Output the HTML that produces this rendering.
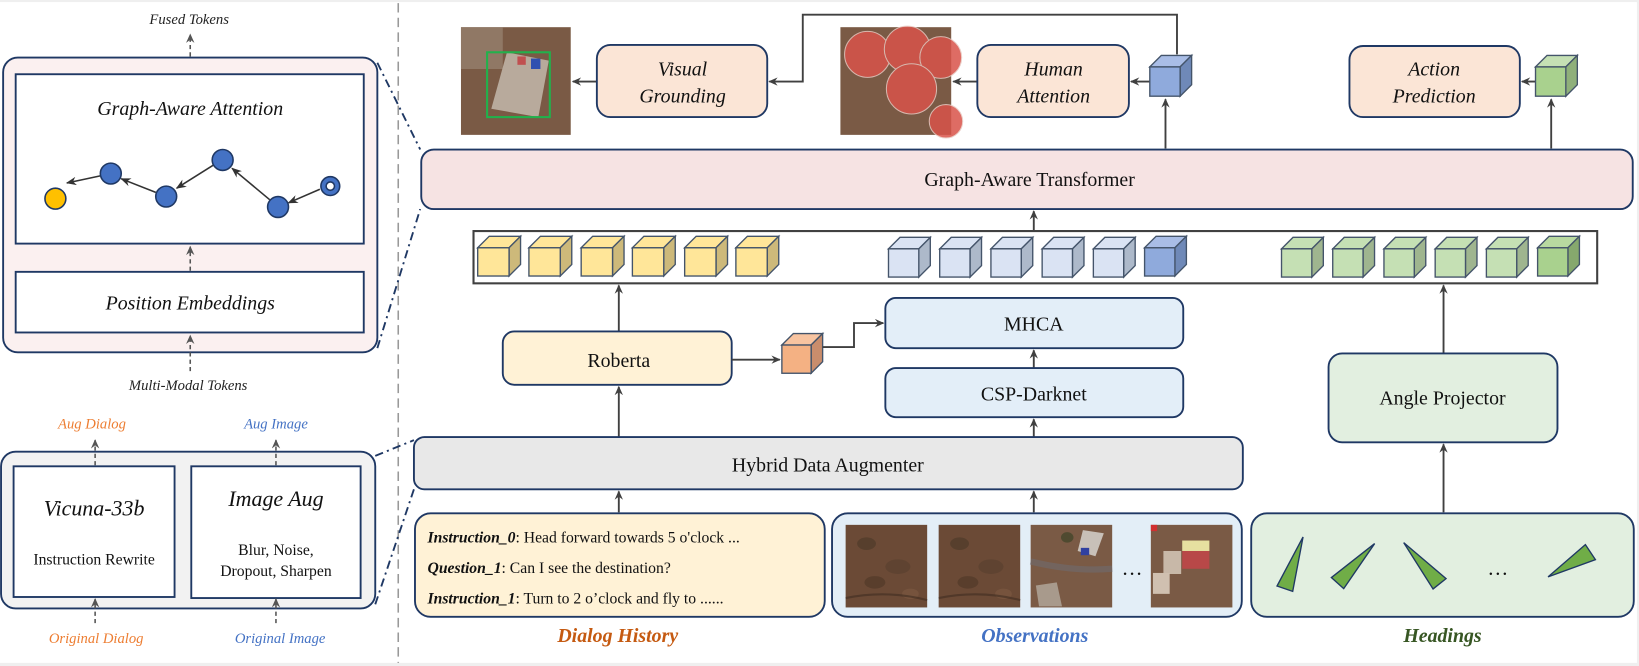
<!DOCTYPE html>
<html><head><meta charset="utf-8"><style>
html,body{margin:0;padding:0;background:#efefef;}
svg{display:block;}
text{font-family:"Liberation Serif",serif;}
</style></head><body>
<svg width="1639" height="666" viewBox="0 0 1568 637" preserveAspectRatio="none" xmlns="http://www.w3.org/2000/svg">
<defs>
<marker id="ar" markerWidth="10" markerHeight="10" refX="8" refY="4" orient="auto" markerUnits="userSpaceOnUse">
<path d="M0,0 L9,4 L0,8 L3,4 Z" fill="#404040"/>
</marker>
<marker id="ard" markerWidth="10" markerHeight="10" refX="8" refY="4" orient="auto" markerUnits="userSpaceOnUse">
<path d="M0,0 L9,4 L0,8 L3,4 Z" fill="#555"/>
</marker>
<marker id="arn" markerWidth="12" markerHeight="10" refX="9" refY="4" orient="auto" markerUnits="userSpaceOnUse">
<path d="M0,0 L10,4 L0,8 L3,4 Z" fill="#333"/>
</marker>
<g id="soil">
<rect width="78" height="79" fill="#6b4a36"/>
<ellipse cx="20" cy="18" rx="9" ry="6" fill="#4f3a2a" opacity=".7"/>
<ellipse cx="50" cy="40" rx="12" ry="7" fill="#56402e" opacity=".6"/>
<ellipse cx="28" cy="55" rx="10" ry="6" fill="#4c3727" opacity=".6"/>
<ellipse cx="62" cy="66" rx="8" ry="5" fill="#7d5a42" opacity=".6"/>
<path d="M0,70 Q40,62 78,72" stroke="#3f2d22" stroke-width="2" fill="none" opacity=".6"/>
</g>
</defs>
<rect x="0" y="2" width="1566" height="632" fill="#fff"/>

<!-- separator -->
<line x1="381" y1="3" x2="381" y2="634" stroke="#999" stroke-width="1.5" stroke-dasharray="9,5"/>

<!-- LEFT TOP PANEL -->
<text x="181" y="23" font-size="14" font-style="italic" text-anchor="middle" fill="#222">Fused Tokens</text>
<line x1="182" y1="54" x2="182" y2="33" stroke="#555" stroke-width="1.5" stroke-dasharray="4,3" marker-end="url(#ard)"/>
<rect x="3" y="55" width="358" height="282" rx="14" fill="#fbf0f0" stroke="#1f3864" stroke-width="1.8"/>
<rect x="15" y="71" width="333" height="162" fill="#fff" stroke="#1f3864" stroke-width="1.8"/>
<text x="182" y="110" font-size="19" font-style="italic" text-anchor="middle" fill="#111">Graph-Aware Attention</text>
<g stroke="#333" stroke-width="1.5" marker-end="url(#arn)">
<line x1="97" y1="168" x2="64" y2="175"/>
<line x1="149" y1="184" x2="116" y2="171"/>
<line x1="204" y1="158" x2="169" y2="180"/>
<line x1="258" y1="191" x2="222" y2="161"/>
<line x1="306" y1="181" x2="276" y2="194"/>
</g>
<g stroke="#1f3864" stroke-width="1.5">
<circle cx="53" cy="190" r="10" fill="#ffc000"/>
<circle cx="106" cy="166" r="10" fill="#4472c4"/>
<circle cx="159" cy="188" r="10" fill="#4472c4"/>
<circle cx="213" cy="153" r="10" fill="#4472c4"/>
<circle cx="266" cy="198" r="10" fill="#4472c4"/>
<circle cx="316" cy="178" r="9" fill="#4472c4"/>
<circle cx="316" cy="178" r="4" fill="#fff"/>
</g>
<line x1="182" y1="259" x2="182" y2="236" stroke="#555" stroke-width="1.5" stroke-dasharray="4,3" marker-end="url(#ard)"/>
<rect x="15" y="260" width="333" height="58" fill="#fff" stroke="#1f3864" stroke-width="1.8"/>
<text x="182" y="296" font-size="19" font-style="italic" text-anchor="middle" fill="#111">Position Embeddings</text>
<line x1="182" y1="355" x2="182" y2="321" stroke="#555" stroke-width="1.5" stroke-dasharray="4,3" marker-end="url(#ard)"/>
<text x="180" y="373" font-size="14" font-style="italic" text-anchor="middle" fill="#222">Multi-Modal Tokens</text>

<!-- LEFT BOTTOM PANEL -->
<text x="88" y="410" font-size="14" font-style="italic" text-anchor="middle" fill="#ed7d31">Aug Dialog</text>
<text x="264" y="410" font-size="14" font-style="italic" text-anchor="middle" fill="#4472c4">Aug Image</text>
<rect x="1" y="432" width="358" height="150" rx="14" fill="#f2f2f2" stroke="#1f3864" stroke-width="1.8"/>
<line x1="91" y1="445" x2="91" y2="421" stroke="#555" stroke-width="1.5" stroke-dasharray="4,3" marker-end="url(#ard)"/>
<line x1="264" y1="445" x2="264" y2="421" stroke="#555" stroke-width="1.5" stroke-dasharray="4,3" marker-end="url(#ard)"/>
<rect x="13" y="446" width="154" height="125" fill="#fff" stroke="#1f3864" stroke-width="1.8"/>
<rect x="183" y="446" width="162" height="126" fill="#fff" stroke="#1f3864" stroke-width="1.8"/>
<text x="90" y="493" font-size="21" font-style="italic" text-anchor="middle" fill="#111">Vicuna-33b</text>
<text x="90" y="540" font-size="15" text-anchor="middle" fill="#111">Instruction Rewrite</text>
<text x="264" y="484" font-size="21" font-style="italic" text-anchor="middle" fill="#111">Image Aug</text>
<text x="264" y="531" font-size="15" text-anchor="middle" fill="#111">Blur, Noise,</text>
<text x="264" y="551" font-size="15" text-anchor="middle" fill="#111">Dropout, Sharpen</text>
<line x1="91" y1="596" x2="91" y2="573" stroke="#555" stroke-width="1.5" stroke-dasharray="4,3" marker-end="url(#ard)"/>
<line x1="264" y1="596" x2="264" y2="573" stroke="#555" stroke-width="1.5" stroke-dasharray="4,3" marker-end="url(#ard)"/>
<text x="92" y="615" font-size="14" font-style="italic" text-anchor="middle" fill="#ed7d31">Original Dialog</text>
<text x="268" y="615" font-size="14" font-style="italic" text-anchor="middle" fill="#4472c4">Original Image</text>

<!-- dash-dot connectors -->
<g stroke="#1f3864" stroke-width="1.8" stroke-dasharray="8,4,2,4" fill="none">
<line x1="361" y1="60" x2="402" y2="143"/>
<line x1="361" y1="333" x2="402" y2="200"/>
<line x1="359" y1="436" x2="396" y2="421"/>
<line x1="359" y1="578" x2="396" y2="468"/>
</g>

<!-- TOP ROW -->
<rect x="441" y="26" width="105" height="103" fill="#7a5a45"/>
<rect x="441" y="26" width="40" height="40" fill="#9a8574" opacity=".7"/>
<polygon points="485,50 525,58 515,112 470,104" fill="#b8aa9c"/>
<rect x="508" y="56" width="9" height="10" fill="#3050b0"/>
<rect x="495" y="54" width="8" height="8" fill="#c05050"/>
<rect x="466" y="50" width="60" height="62" fill="none" stroke="#22b14c" stroke-width="2"/>
<line x1="571" y1="78" x2="548" y2="78" stroke="#404040" stroke-width="1.8" marker-end="url(#ar)"/>
<rect x="571" y="43" width="163" height="69" rx="13" fill="#fbe5d6" stroke="#1f3864" stroke-width="1.8"/>
<text x="653" y="72" font-size="19" font-style="italic" text-anchor="middle" fill="#111">Visual</text>
<text x="653" y="98" font-size="19" font-style="italic" text-anchor="middle" fill="#111">Grounding</text>
<polyline points="1126,52 1126,14 768,14 768,78 736,78" fill="none" stroke="#404040" stroke-width="1.8" marker-end="url(#ar)"/>

<rect x="804" y="26" width="106" height="103" fill="#7a5a45"/>
<g fill="#d9534a" opacity=".85" stroke="#e8c8c0" stroke-width="1">
<circle cx="830" cy="52" r="22"/>
<circle cx="868" cy="47" r="22"/>
<circle cx="900" cy="55" r="20"/>
<circle cx="872" cy="85" r="24"/>
<circle cx="905" cy="116" r="16"/>
</g>
<line x1="935" y1="78" x2="912" y2="78" stroke="#404040" stroke-width="1.8" marker-end="url(#ar)"/>
<rect x="935" y="43" width="145" height="69" rx="13" fill="#fbe5d6" stroke="#1f3864" stroke-width="1.8"/>
<text x="1008" y="72" font-size="19" font-style="italic" text-anchor="middle" fill="#111">Human</text>
<text x="1008" y="98" font-size="19" font-style="italic" text-anchor="middle" fill="#111">Attention</text>
<line x1="1100" y1="78" x2="1082" y2="78" stroke="#404040" stroke-width="1.8" marker-end="url(#ar)"/>
<!-- blue cube top -->
<g stroke="#44546a" stroke-width="1.3">
<polygon points="1100,64 1111,53 1140,53 1129,64" fill="#a9bde6"/>
<polygon points="1129,64 1140,53 1140,81 1129,92" fill="#6f89b8"/>
<rect x="1100" y="64" width="29" height="28" fill="#8faadc"/>
</g>
<line x1="1115" y1="142" x2="1115" y2="95" stroke="#404040" stroke-width="1.8" marker-end="url(#ar)"/>

<rect x="1291" y="44" width="163" height="68" rx="13" fill="#fbe5d6" stroke="#1f3864" stroke-width="1.8"/>
<text x="1372" y="72" font-size="19" font-style="italic" text-anchor="middle" fill="#111">Action</text>
<text x="1372" y="98" font-size="19" font-style="italic" text-anchor="middle" fill="#111">Prediction</text>
<line x1="1469" y1="78" x2="1456" y2="78" stroke="#404040" stroke-width="1.8" marker-end="url(#ar)"/>
<g stroke="#44546a" stroke-width="1.3">
<polygon points="1469,64 1480,53 1509,53 1498,64" fill="#c5e0b4"/>
<polygon points="1498,64 1509,53 1509,81 1498,92" fill="#8fb07a"/>
<rect x="1469" y="64" width="29" height="28" fill="#a9d18e"/>
</g>
<line x1="1484" y1="142" x2="1484" y2="95" stroke="#404040" stroke-width="1.8" marker-end="url(#ar)"/>

<!-- Graph-Aware Transformer -->
<rect x="403" y="143" width="1159" height="57" rx="12" fill="#f6e3e3" stroke="#1f3864" stroke-width="1.8"/>
<text x="985" y="178" font-size="19" text-anchor="middle" fill="#111">Graph-Aware Transformer</text>
<line x1="989" y1="220" x2="989" y2="202" stroke="#404040" stroke-width="1.8" marker-end="url(#ar)"/>

<!-- token strip -->
<rect x="453" y="221" width="1075" height="50" fill="#fff" stroke="#404040" stroke-width="2"/>
<g stroke="#44546a" stroke-width="1.3" id="cubes">
<!-- yellow -->
<g fill="#ffe699">
<polygon points="457,237 468,226 498,226 487,237" fill="#ffe699"/><polygon points="487,237 498,226 498,253 487,264" fill="#cdb97a"/><rect x="457" y="237" width="30" height="27"/>
<polygon points="506,237 517,226 547,226 536,237" fill="#ffe699"/><polygon points="536,237 547,226 547,253 536,264" fill="#cdb97a"/><rect x="506" y="237" width="30" height="27"/>
<polygon points="556,237 567,226 597,226 586,237" fill="#ffe699"/><polygon points="586,237 597,226 597,253 586,264" fill="#cdb97a"/><rect x="556" y="237" width="30" height="27"/>
<polygon points="605,237 616,226 646,226 635,237" fill="#ffe699"/><polygon points="635,237 646,226 646,253 635,264" fill="#cdb97a"/><rect x="605" y="237" width="30" height="27"/>
<polygon points="655,237 666,226 696,226 685,237" fill="#ffe699"/><polygon points="685,237 696,226 696,253 685,264" fill="#cdb97a"/><rect x="655" y="237" width="30" height="27"/>
<polygon points="704,237 715,226 745,226 734,237" fill="#ffe699"/><polygon points="734,237 745,226 745,253 734,264" fill="#cdb97a"/><rect x="704" y="237" width="30" height="27"/>
</g>
<!-- blue -->
<g fill="#dae3f3">
<polygon points="850,238 861,227 890,227 879,238"/><polygon points="879,238 890,227 890,254 879,265" fill="#adb9ca"/><rect x="850" y="238" width="29" height="27"/>
<polygon points="899,238 910,227 939,227 928,238"/><polygon points="928,238 939,227 939,254 928,265" fill="#adb9ca"/><rect x="899" y="238" width="29" height="27"/>
<polygon points="948,238 959,227 988,227 977,238"/><polygon points="977,238 988,227 988,254 977,265" fill="#adb9ca"/><rect x="948" y="238" width="29" height="27"/>
<polygon points="997,238 1008,227 1037,227 1026,238"/><polygon points="1026,238 1037,227 1037,254 1026,265" fill="#adb9ca"/><rect x="997" y="238" width="29" height="27"/>
<polygon points="1046,238 1057,227 1086,227 1075,238"/><polygon points="1075,238 1086,227 1086,254 1075,265" fill="#adb9ca"/><rect x="1046" y="238" width="29" height="27"/>
<polygon points="1095,237 1106,226 1135,226 1124,237" fill="#a9bde6"/><polygon points="1124,237 1135,226 1135,253 1124,264" fill="#6f89b8"/><rect x="1095" y="237" width="29" height="27" fill="#8faadc"/>
</g>
<!-- green -->
<g fill="#c5e0b4">
<polygon points="1226,238 1237,227 1266,227 1255,238"/><polygon points="1255,238 1266,227 1266,254 1255,265" fill="#9fb58f"/><rect x="1226" y="238" width="29" height="27"/>
<polygon points="1275,238 1286,227 1315,227 1304,238"/><polygon points="1304,238 1315,227 1315,254 1304,265" fill="#9fb58f"/><rect x="1275" y="238" width="29" height="27"/>
<polygon points="1324,238 1335,227 1364,227 1353,238"/><polygon points="1353,238 1364,227 1364,254 1353,265" fill="#9fb58f"/><rect x="1324" y="238" width="29" height="27"/>
<polygon points="1373,238 1384,227 1413,227 1402,238"/><polygon points="1402,238 1413,227 1413,254 1402,265" fill="#9fb58f"/><rect x="1373" y="238" width="29" height="27"/>
<polygon points="1422,238 1433,227 1462,227 1451,238"/><polygon points="1451,238 1462,227 1462,254 1451,265" fill="#9fb58f"/><rect x="1422" y="238" width="29" height="27"/>
<polygon points="1471,237 1482,226 1511,226 1500,237" fill="#b8d9a0"/><polygon points="1500,237 1511,226 1511,253 1500,264" fill="#86a86d"/><rect x="1471" y="237" width="29" height="27" fill="#a9d18e"/>
</g>
</g>

<!-- middle -->
<line x1="592" y1="317" x2="592" y2="273" stroke="#404040" stroke-width="1.8" marker-end="url(#ar)"/>
<rect x="481" y="317" width="219" height="51" rx="11" fill="#fff2d6" stroke="#1f3864" stroke-width="1.8"/>
<text x="592" y="351" font-size="19" text-anchor="middle" fill="#111">Roberta</text>
<line x1="700" y1="344" x2="746" y2="344" stroke="#404040" stroke-width="1.8" marker-end="url(#ar)"/>
<g stroke="#44546a" stroke-width="1.3">
<polygon points="748,330 759,319 787,319 776,330" fill="#f8c4a0"/>
<polygon points="776,330 787,319 787,346 776,357" fill="#c98d6c"/>
<rect x="748" y="330" width="28" height="27" fill="#f4b183"/>
</g>
<polyline points="787,332 817,332 817,309 845,309" fill="none" stroke="#404040" stroke-width="1.8" marker-end="url(#ar)"/>
<rect x="847" y="285" width="285" height="48" rx="10" fill="#e3eef8" stroke="#1f3864" stroke-width="1.8"/>
<text x="989" y="316" font-size="19" text-anchor="middle" fill="#111">MHCA</text>
<line x1="989" y1="352" x2="989" y2="335" stroke="#404040" stroke-width="1.8" marker-end="url(#ar)"/>
<rect x="847" y="352" width="285" height="47" rx="10" fill="#e3eef8" stroke="#1f3864" stroke-width="1.8"/>
<text x="989" y="383" font-size="19" text-anchor="middle" fill="#111">CSP-Darknet</text>
<line x1="989" y1="418" x2="989" y2="401" stroke="#404040" stroke-width="1.8" marker-end="url(#ar)"/>
<line x1="592" y1="418" x2="592" y2="370" stroke="#404040" stroke-width="1.8" marker-end="url(#ar)"/>

<rect x="396" y="418" width="793" height="50" rx="10" fill="#e8e8e8" stroke="#1f3864" stroke-width="1.8"/>
<text x="792" y="451" font-size="19" text-anchor="middle" fill="#111">Hybrid Data Augmenter</text>
<line x1="592" y1="490" x2="592" y2="470" stroke="#404040" stroke-width="1.8" marker-end="url(#ar)"/>
<line x1="989" y1="490" x2="989" y2="470" stroke="#404040" stroke-width="1.8" marker-end="url(#ar)"/>

<!-- Angle projector -->
<line x1="1381" y1="338" x2="1381" y2="273" stroke="#404040" stroke-width="1.8" marker-end="url(#ar)"/>
<rect x="1271" y="338" width="219" height="85" rx="13" fill="#e2efe0" stroke="#1f3864" stroke-width="1.8"/>
<text x="1380" y="387" font-size="19" text-anchor="middle" fill="#111">Angle Projector</text>
<line x1="1381" y1="490" x2="1381" y2="425" stroke="#404040" stroke-width="1.8" marker-end="url(#ar)"/>

<!-- Bottom boxes -->
<rect x="397" y="491" width="392" height="99" rx="15" fill="#fff2d6" stroke="#1f3864" stroke-width="1.8"/>
<text x="409" y="519" font-size="15" fill="#111"><tspan font-weight="bold" font-style="italic">Instruction_0</tspan>: Head forward towards 5 o'clock ...</text>
<text x="409" y="548" font-size="15" fill="#111"><tspan font-weight="bold" font-style="italic">Question_1</tspan>: Can I see the destination?</text>
<text x="409" y="577" font-size="15" fill="#111"><tspan font-weight="bold" font-style="italic">Instruction_1</tspan>: Turn to 2 o’clock and fly to ......</text>

<rect x="796" y="491" width="392" height="99" rx="15" fill="#e3eef7" stroke="#1f3864" stroke-width="1.8"/>
<use href="#soil" x="809" y="502"/>
<use href="#soil" x="898" y="502"/>
<g transform="translate(986,502)">
<rect width="78" height="79" fill="#7a5a45"/>
<path d="M0,35 Q40,45 78,42" stroke="#6e6a70" stroke-width="6" fill="none" opacity=".6"/>
<polygon points="50,5 70,8 62,30 45,25" fill="#c8c0b8"/>
<rect x="48" y="22" width="8" height="7" fill="#3040a0"/>
<polygon points="5,58 25,55 30,78 8,78" fill="#a89a8c"/>
<ellipse cx="35" cy="12" rx="6" ry="5" fill="#4f4a30"/>
</g>
<text x="1083" y="550" font-size="20" text-anchor="middle" fill="#111">…</text>
<g transform="translate(1101,502)">
<rect width="78" height="79" fill="#7a5a45"/>
<rect x="30" y="15" width="26" height="10" fill="#e6e0a0"/>
<rect x="30" y="25" width="26" height="17" fill="#b84848"/>
<rect x="12" y="25" width="17" height="22" fill="#c8b8a8"/>
<rect x="2" y="46" width="16" height="20" fill="#d0c0b0"/>
<rect x="0" y="0" width="6" height="6" fill="#d03030"/>
</g>

<rect x="1197" y="491" width="366" height="99" rx="15" fill="#e2efe0" stroke="#1f3864" stroke-width="1.8"/>
<g fill="#70ad47" stroke="#1f3864" stroke-width="1.3">
<polygon points="1246.6,513.6 1236.7,565.6 1221.7,560.5"/>
<polygon points="1315.1,519.9 1273.7,552.4 1285.5,563"/>
<polygon points="1342.9,519 1383.4,553.4 1371,563.3"/>
<polygon points="1481,551.8 1526.3,535.3 1516.7,520.9"/>
</g>
<text x="1433" y="550" font-size="20" text-anchor="middle" fill="#111">…</text>

<text x="591" y="614" font-size="19" font-weight="bold" font-style="italic" text-anchor="middle" fill="#c55a11">Dialog History</text>
<text x="990" y="614" font-size="19" font-weight="bold" font-style="italic" text-anchor="middle" fill="#4472c4">Observations</text>
<text x="1380" y="614" font-size="19" font-weight="bold" font-style="italic" text-anchor="middle" fill="#375623">Headings</text>
</svg>
</body></html>
